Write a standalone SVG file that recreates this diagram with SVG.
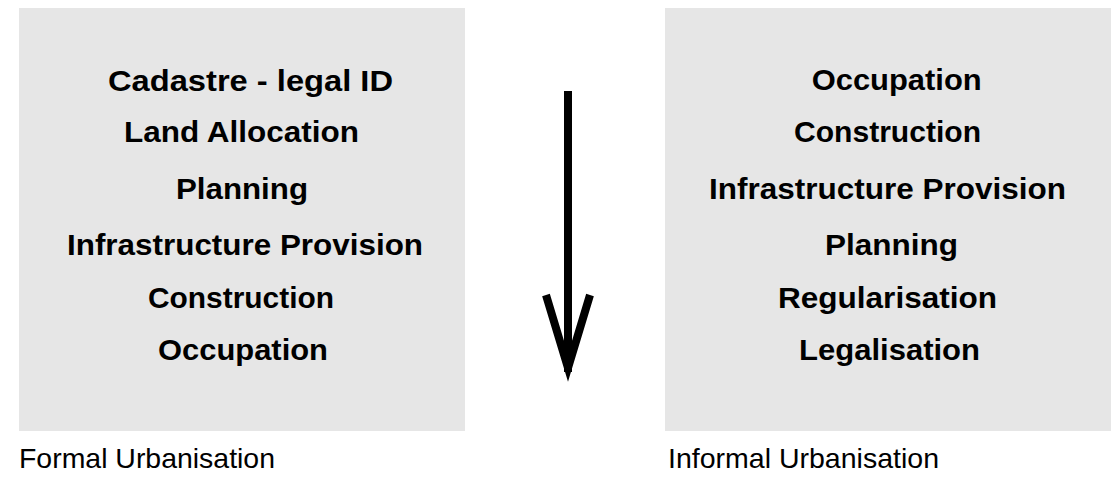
<svg xmlns="http://www.w3.org/2000/svg" width="1111" height="481" viewBox="0 0 1111 481">
<style>
.box{fill:#e6e6e6}
.t{font-family:"Liberation Sans",Arial,sans-serif;font-weight:bold;font-size:30px;fill:#000;text-anchor:middle}
.cap{font-family:"Liberation Sans",Arial,sans-serif;font-size:28px;fill:#000}
.arr{fill:none;stroke:#000;stroke-width:8}
</style>
<rect width="1111" height="481" fill="#fff"/>
<g id="formal">
<rect class="box" x="19" y="8" width="446" height="423"/>
<text class="t" x="250.5" y="91" textLength="285" lengthAdjust="spacingAndGlyphs">Cadastre - legal ID</text>
<text class="t" x="241.5" y="142" textLength="235" lengthAdjust="spacingAndGlyphs">Land Allocation</text>
<text class="t" x="242" y="199" textLength="132" lengthAdjust="spacingAndGlyphs">Planning</text>
<text class="t" x="245" y="255" textLength="356" lengthAdjust="spacingAndGlyphs">Infrastructure Provision</text>
<text class="t" x="241" y="308" textLength="186" lengthAdjust="spacingAndGlyphs">Construction</text>
<text class="t" x="243" y="360" textLength="170" lengthAdjust="spacingAndGlyphs">Occupation</text>
<text class="cap" x="19" y="468" textLength="256" lengthAdjust="spacingAndGlyphs">Formal Urbanisation</text>
</g>
<g id="informal">
<rect class="box" x="665" y="8" width="446" height="423"/>
<text class="t" x="896.7" y="90" textLength="170" lengthAdjust="spacingAndGlyphs">Occupation</text>
<text class="t" x="887.5" y="142" textLength="187" lengthAdjust="spacingAndGlyphs">Construction</text>
<text class="t" x="887.5" y="199" textLength="357" lengthAdjust="spacingAndGlyphs">Infrastructure Provision</text>
<text class="t" x="891.5" y="255" textLength="133" lengthAdjust="spacingAndGlyphs">Planning</text>
<text class="t" x="887.5" y="308" textLength="219" lengthAdjust="spacingAndGlyphs">Regularisation</text>
<text class="t" x="889.5" y="360" textLength="181" lengthAdjust="spacingAndGlyphs">Legalisation</text>
<text class="cap" x="668" y="468" textLength="271" lengthAdjust="spacingAndGlyphs">Informal Urbanisation</text>
</g>
<g id="connectors">
<line class="arr" x1="568" y1="91" x2="568" y2="372"/>
<polyline class="arr" points="546,295 568,368 590,295" stroke-linejoin="miter" stroke-miterlimit="10"/>
</g>
</svg>
